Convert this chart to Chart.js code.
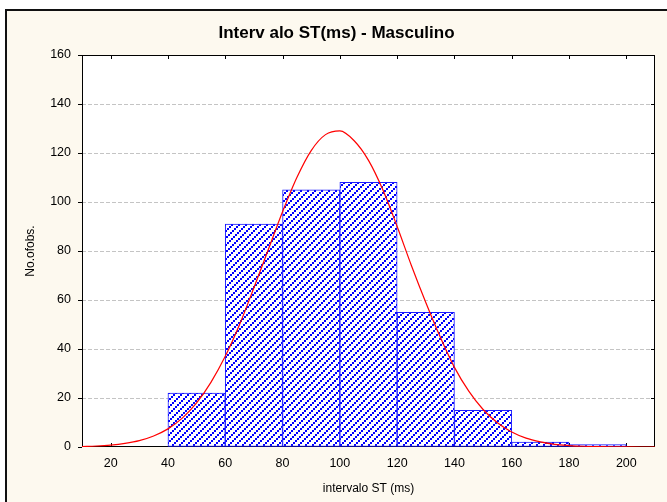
<!DOCTYPE html>
<html><head><meta charset="utf-8">
<script src="https://cdn.jsdelivr.net/npm/chart.js@4.4.0/dist/chart.umd.min.js"></script>
<style>html,body{margin:0;padding:0;background:#fff;}canvas{display:block}</style>
</head><body>
<canvas id="c" width="667" height="502"></canvas>
<script>
const chartTitle = 'Interv alo ST(ms) - Masculino';
const xAxisTitle = 'intervalo ST (ms)';
const yAxisTitle = 'No.ofobs.';
const binEdges = [40, 60, 80, 100, 120, 140, 160, 180, 200];
const binCounts = [22, 91, 105, 108, 55, 15, 2, 1];
const curveX = [10,15,20,25,30,35,40,45,50,55,60,65,70,75,80,85,90,95,100,105,110,115,120,125,130,135,140,145,150,155,160,165,170,175,180,185,190,195,200,205,210];
const curveY = [0.2,0.4,0.8,1.5,2.6,4.5,7.4,11.8,18,26.4,37,50,65,80.5,96,110,121,127.5,129,125,117,105,90,74,59,45,32.5,22.8,15.3,9.9,6.1,3.6,2.1,1.1,0.6,0.3,0.15,0.07,0.03,0.01,0];
const xTickValues = [20, 40, 60, 80, 100, 120, 140, 160, 180, 200];
const yTickValues = [0, 20, 40, 60, 80, 100, 120, 140, 160];

const FONT = '"Liberation Sans", Arial, sans-serif';
const canvas = document.getElementById('c');
const ctx0 = canvas.getContext('2d');

function makePattern() {
  const T = 14;
  const p = document.createElement('canvas');
  p.width = T; p.height = T;
  const g = p.getContext('2d');
  g.fillStyle = '#ffffff'; g.fillRect(0, 0, T, T);
  g.fillStyle = '#0000ff';
  const dot = (x, y) => {
    for (const dx of [-T, 0, T]) for (const dy of [-T, 0, T]) g.fillRect(x + dx, y + dy, 2, 2);
  };
  for (let y = 0; y < T; y++) {
    for (let x = 0; x < T; x++) {
      if (y % 2 === 0 && (x + y) % 7 === 0) dot(x, y);
    }
  }
  return ctx0.createPattern(p, 'repeat');
}

const binData = binCounts.map((c, i) => ({ x: (binEdges[i] + binEdges[i + 1]) / 2, y: c }));
const curveData = curveX.map((x, i) => ({ x: x, y: curveY[i] }));

const framePlugin = {
  id: 'frame',
  beforeDraw(chart) {
    const { ctx, chartArea: a, width, height } = chart;
    ctx.save();
    ctx.fillStyle = '#ffffff'; ctx.fillRect(0, 0, width, height);
    ctx.fillStyle = '#fdf9ef'; ctx.fillRect(6, 10, width - 6, height - 10);
    ctx.fillStyle = '#111'; ctx.fillRect(5, 9, 2, height - 9); ctx.fillRect(5, 9, width - 5, 2);
    ctx.fillStyle = '#ffffff'; ctx.fillRect(a.left, a.top, a.right - a.left, a.bottom - a.top);
    ctx.font = 'bold 17px ' + FONT;
    ctx.fillStyle = '#000'; ctx.textAlign = 'center'; ctx.textBaseline = 'middle';
    ctx.fillText(chartTitle, width / 2 + 3, 33);
    ctx.restore();
  },
  beforeDatasetsDraw(chart) {
    const { ctx, chartArea: a, scales } = chart;
    ctx.save();
    ctx.strokeStyle = '#000'; ctx.lineWidth = 1;
    ctx.strokeRect(Math.round(a.left) + 0.5, Math.round(a.top) + 0.5, Math.round(a.right - a.left) - 1, Math.round(a.bottom - a.top) - 1);
    ctx.beginPath();
    xTickValues.forEach(v => {
      const px = Math.round(scales.x.getPixelForValue(v)) + 0.5;
      ctx.moveTo(px, a.bottom); ctx.lineTo(px, a.bottom - 4);
      ctx.moveTo(px, a.top); ctx.lineTo(px, a.top + 4);
    });
    yTickValues.forEach(v => {
      if (v === yTickValues[0] || v === yTickValues[yTickValues.length - 1]) return;
      const py = Math.round(scales.y.getPixelForValue(v)) + 0.5;
      ctx.moveTo(a.right, py); ctx.lineTo(a.right - 4, py);
    });
    ctx.stroke();
    ctx.restore();
  }
};

new Chart(canvas, {
  type: 'bar',
  data: {
    datasets: [
      {
        type: 'line',
        data: curveData,
        borderColor: '#ff0000',
        borderWidth: 1.2,
        pointRadius: 0,
        cubicInterpolationMode: 'monotone',
        fill: false
      },
      {
        type: 'bar',
        data: binData,
        backgroundColor: makePattern(),
        borderColor: '#1a1aff',
        borderWidth: 1,
        borderSkipped: false,
        barPercentage: 1,
        categoryPercentage: 1,
        grouped: false
      }
    ]
  },
  options: {
    responsive: false,
    animation: false,
    devicePixelRatio: 1,
    layout: { padding: { left: 19, right: 12, top: 55, bottom: 2 } },
    plugins: { legend: { display: false }, tooltip: { enabled: false }, title: { display: false } },
    scales: {
      x: {
        type: 'linear',
        offset: false,
        min: 10, max: 210,
        afterFit(s) { s.height = 53; },
        afterBuildTicks(s) { s.ticks = xTickValues.map(v => ({ value: v })); },
        ticks: { font: { size: 12.5, family: FONT }, color: '#000', padding: 9, maxRotation: 0, autoSkip: false, includeBounds: false },
        grid: { display: false, drawTicks: false, offset: false },
        border: { display: false },
        title: { display: true, text: xAxisTitle, color: '#000', font: { size: 12, family: FONT }, padding: { top: 4, bottom: 4 } }
      },
      y: {
        min: 0, max: 160,
        afterFit(s) { s.width = 63; },
        afterBuildTicks(s) { s.ticks = yTickValues.map(v => ({ value: v })); },
        ticks: { font: { size: 12.5, family: FONT }, color: '#000', padding: 7 },
        grid: {
          color: c => (c.tick && (c.tick.value === 0 || c.tick.value === 160)) ? 'rgba(0,0,0,0)' : '#c4c4c4',
          tickColor: '#000', tickLength: 4, lineWidth: 1
        },
        border: { display: false, dash: [4, 2] },
        title: { display: true, text: yAxisTitle, color: '#000', font: { size: 12, family: FONT }, padding: { top: 4, bottom: 4 } }
      }
    }
  },
  plugins: [framePlugin]
});
</script>
</body></html>
